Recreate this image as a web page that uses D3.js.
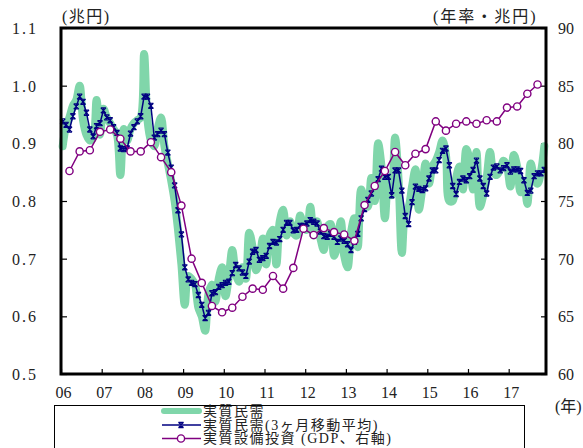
<!DOCTYPE html>
<html><head><meta charset="utf-8">
<script src="https://cdn.jsdelivr.net/npm/d3@7"></script>
<style>
html,body{margin:0;padding:0;background:#fff;}
svg{display:block;}
</style></head><body>
<svg id="chart" width="583" height="448"></svg>
<script>
// 実質民需 (monthly, 2006/1 – 2017/11, 兆円)
const privateDemand = [
  0.895, 0.93, 0.945, 0.965, 0.975, 1.0, 0.94, 0.915, 0.905, 0.91, 0.975, 0.915,
  0.96, 0.945, 0.935, 0.925, 0.915, 0.845, 0.925, 0.905, 0.925, 0.935, 0.94, 0.945,
  1.055, 0.94, 0.905, 0.895, 0.925, 0.945, 0.895, 0.865, 0.835, 0.80, 0.75, 0.69,
  0.62, 0.67, 0.665, 0.655, 0.615, 0.60, 0.575, 0.64, 0.655, 0.625, 0.665, 0.685,
  0.635, 0.67, 0.715, 0.675, 0.66, 0.685, 0.665, 0.745, 0.72, 0.68, 0.695, 0.735,
  0.69, 0.74, 0.75, 0.69, 0.765, 0.785, 0.74, 0.765, 0.745, 0.74, 0.775, 0.755,
  0.75, 0.79, 0.74, 0.765, 0.735, 0.715, 0.755, 0.76, 0.705, 0.725, 0.765, 0.705,
  0.685, 0.745, 0.77, 0.72, 0.82, 0.80, 0.79, 0.84, 0.80, 0.90, 0.86, 0.77,
  0.84, 0.81, 0.91, 0.84, 0.71, 0.78, 0.79, 0.825, 0.855, 0.785, 0.82, 0.865,
  0.83, 0.86, 0.87, 0.885, 0.905, 0.88, 0.80, 0.80, 0.84, 0.86, 0.82, 0.89,
  0.87, 0.82, 0.885, 0.79, 0.81, 0.84, 0.885, 0.85, 0.845, 0.855, 0.87, 0.86,
  0.825, 0.88, 0.86, 0.815, 0.835, 0.795, 0.865, 0.84, 0.83, 0.85, 0.895
];

// 実質民需 3ヶ月移動平均 (monthly)
const privateDemandMA3 = [
  0.938, 0.932, 0.924, 0.947, 0.964, 0.981, 0.972, 0.953, 0.924, 0.912, 0.930, 0.935,
  0.957, 0.945, 0.940, 0.928, 0.918, 0.891, 0.890, 0.891, 0.917, 0.928, 0.938, 0.947,
  0.981, 0.981, 0.965, 0.910, 0.916, 0.922, 0.916, 0.884, 0.858, 0.827, 0.784, 0.742,
  0.685, 0.664, 0.658, 0.656, 0.637, 0.620, 0.597, 0.606, 0.640, 0.642, 0.651, 0.654,
  0.658, 0.660, 0.675, 0.689, 0.683, 0.676, 0.670, 0.695, 0.712, 0.715, 0.698, 0.701,
  0.705, 0.722, 0.729, 0.728, 0.734, 0.750, 0.762, 0.762, 0.749, 0.750, 0.757, 0.757,
  0.761, 0.767, 0.764, 0.761, 0.747, 0.739, 0.738, 0.743, 0.738, 0.729, 0.735, 0.731,
  0.725, 0.715, 0.729, 0.743, 0.770, 0.786, 0.802, 0.813, 0.825, 0.838, 0.856, 0.842,
  0.842, 0.810, 0.853, 0.853, 0.818, 0.774, 0.760, 0.798, 0.825, 0.821, 0.819, 0.822,
  0.839, 0.853, 0.853, 0.871, 0.887, 0.891, 0.862, 0.826, 0.812, 0.833, 0.839, 0.836,
  0.843, 0.854, 0.870, 0.839, 0.826, 0.813, 0.842, 0.858, 0.860, 0.853, 0.857, 0.862,
  0.851, 0.855, 0.855, 0.852, 0.836, 0.814, 0.818, 0.843, 0.848, 0.848, 0.854
];

// 実質設備投資 (GDP, quarterly 2006Q1 – 2017Q3, 年率・兆円, right axis)
const capexGDP = [
  77.6, 79.3, 79.4, 81.0, 81.2, 80.4, 79.3, 79.3, 80.1, 78.8,
  77.5, 74.6, 70.0, 67.9, 65.9, 65.35, 65.75, 66.7, 67.4, 67.3,
  68.5, 67.4, 69.2, 72.6, 72.05, 72.65, 72.3, 72.1, 71.55, 74.65,
  76.3, 77.6, 79.25, 78.1, 79.1, 79.5, 81.9, 81.1, 81.7, 81.9,
  81.7, 82.0, 81.9, 83.1, 83.2, 84.3, 85.1
];

const yearLabels = ["06","07","08","09","10","11","12","13","14","15","16","17"];
const leftTicks = [0.5, 0.6, 0.7, 0.8, 0.9, 1.0, 1.1];
const rightTicks = [60, 65, 70, 75, 80, 85, 90];

const legendLabels = ["実質民需", "実質民需(3ヶ月移動平均)", "実質設備投資 (GDP、右軸)"];

const GREEN = "#80d6aa", NAVY = "#000080", PURPLE = "#800080";
const FONT = "'Liberation Serif','Noto Sans CJK JP',serif";

const svg = d3.select("#chart");
const L = 61, R = 546, T = 28, B = 374;

const x = d3.scaleLinear().domain([-0.5, privateDemand.length - 0.5]).range([L, R]);
const yL = d3.scaleLinear().domain([0.5, 1.1]).range([B, T]);
const yR = d3.scaleLinear().domain([60, 90]).range([B, T]);

// axes: ticks point into the plot
const gL = svg.append("g").attr("transform", `translate(${L},0)`)
  .call(d3.axisLeft(yL).tickValues(leftTicks).tickFormat(d3.format(".1f"))
    .tickSize(-6).tickPadding(23));
const gR = svg.append("g").attr("transform", `translate(${R},0)`)
  .call(d3.axisRight(yR).tickValues(rightTicks).tickFormat(d3.format("d"))
    .tickSize(-5).tickPadding(12));
const yearTicks = yearLabels.map((_, i) => i * 12 - 0.5);
const gX = svg.append("g").attr("transform", `translate(0,${B})`)
  .call(d3.axisBottom(x).tickValues(yearTicks).tickFormat((d, i) => yearLabels[i])
    .tickSize(-5).tickPadding(13));

[gL, gR, gX].forEach(g => {
  g.select(".domain").remove();
  g.selectAll(".tick line").attr("stroke", "#000").attr("stroke-width", 1.2);
  g.selectAll(".tick text").attr("fill", "#222")
    .style("font-family", FONT).style("font-size", "16px");
});
gL.selectAll(".tick text").style("letter-spacing", "2px").attr("dy", "0.35em");
gR.selectAll(".tick text").attr("dy", "0.35em");
gX.selectAll(".tick text").attr("dx", "2");

// data lines
const monthIdx = d3.range(privateDemand.length);
const quarterIdx = capexGDP.map((_, i) => i * 3 + 2);

svg.append("path")
  .datum(monthIdx)
  .attr("fill", "none").attr("stroke", GREEN).attr("stroke-width", 8)
  .attr("stroke-linecap", "round").attr("stroke-linejoin", "round")
  .attr("d", d3.line().x(i => x(i)).y(i => yL(privateDemand[i])).curve(d3.curveCatmullRom.alpha(0.5)));

svg.append("path")
  .datum(monthIdx)
  .attr("fill", "none").attr("stroke", NAVY).attr("stroke-width", 1.5)
  .attr("d", d3.line().x(i => x(i)).y(i => yL(privateDemandMA3[i])));

const star = s => `M${-s},${-s}L${s},${s}M${-s},${s}L${s},${-s}M0,${-s}L0,${s}M${-s},${-s}L${s},${-s}M${-s},${s}L${s},${s}`;
svg.append("g").selectAll("path")
  .data(monthIdx).join("path")
  .attr("transform", i => `translate(${x(i)},${yL(privateDemandMA3[i])})`)
  .attr("d", star(2.6))
  .attr("fill", "none").attr("stroke", NAVY).attr("stroke-width", 1.1);

svg.append("path")
  .datum(quarterIdx)
  .attr("fill", "none").attr("stroke", PURPLE).attr("stroke-width", 1.5)
  .attr("d", d3.line().x(i => x(i)).y((i, k) => yR(capexGDP[k])));

svg.append("g").selectAll("circle")
  .data(quarterIdx).join("circle")
  .attr("cx", i => x(i)).attr("cy", (i, k) => yR(capexGDP[k]))
  .attr("r", 3.6).attr("fill", "#fff").attr("stroke", PURPLE).attr("stroke-width", 1.4);

// plot frame
svg.append("rect")
  .attr("x", L).attr("y", T).attr("width", R - L).attr("height", B - T)
  .attr("fill", "none").attr("stroke", "#000").attr("stroke-width", 3);

// unit labels
const txt = (s, xx, yy, ls) => svg.append("text").text(s)
  .attr("x", xx).attr("y", yy)
  .attr("fill", "#222").style("font-family", FONT).style("font-size", "16px")
  .style("letter-spacing", ls || "0px");
txt("(兆円)", 62, 22, "1.5px");
txt("(年率・兆円)", 433, 22, "2px");
txt("(年)", 555, 412);

// legend
svg.append("rect").attr("x", 54.5).attr("y", 405.5).attr("width", 470).attr("height", 60)
  .attr("fill", "#fff").attr("stroke", "#000").attr("stroke-width", 1);
const lg = svg.append("g");
const rowY = [411, 425, 438.5];
lg.append("line").attr("x1", 164).attr("x2", 199).attr("y1", rowY[0]).attr("y2", rowY[0])
  .attr("stroke", GREEN).attr("stroke-width", 6).attr("stroke-linecap", "round");
lg.append("line").attr("x1", 162).attr("x2", 201).attr("y1", rowY[1]).attr("y2", rowY[1])
  .attr("stroke", NAVY).attr("stroke-width", 1.5);
lg.append("path").attr("transform", `translate(181,${rowY[1]})`).attr("d", star(2.6))
  .attr("fill", "none").attr("stroke", NAVY).attr("stroke-width", 1.1);
lg.append("line").attr("x1", 162).attr("x2", 201).attr("y1", rowY[2]).attr("y2", rowY[2])
  .attr("stroke", PURPLE).attr("stroke-width", 1.5);
lg.append("circle").attr("cx", 181).attr("cy", rowY[2]).attr("r", 3.6)
  .attr("fill", "#fff").attr("stroke", PURPLE).attr("stroke-width", 1.4);
legendLabels.forEach((s, i) => {
  lg.append("text").text(s).attr("x", 203).attr("y", rowY[i]).attr("dy", "0.35em")
    .attr("fill", "#222").style("font-family", FONT).style("font-size", "14px")
    .style("letter-spacing", "1.5px");
});
</script>
</body></html>
